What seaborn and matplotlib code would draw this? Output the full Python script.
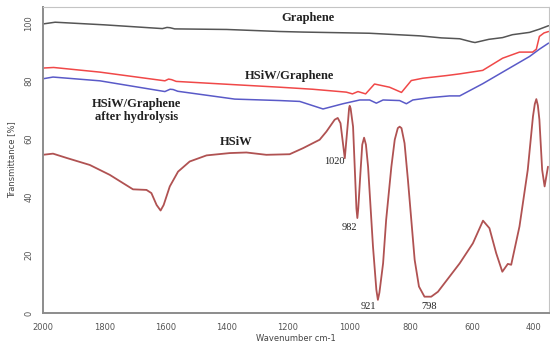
import numpy as np
import pandas as pd
import seaborn as sns
import matplotlib
matplotlib.use("Agg")
import matplotlib.pyplot as plt

# FTIR spectra (wavenumber cm-1 -> transmittance %)
graphene_wn = [2000, 1960, 1800, 1610, 1595, 1585, 1570, 1400, 1227, 1150, 935, 770, 700, 640, 600, 590, 545, 500, 468, 412, 380, 350]
graphene_t = [99.6, 100.2, 99.3, 98.0, 98.4, 98.3, 97.9, 97.7, 97.0, 96.8, 96.4, 95.5, 94.8, 94.5, 93.4, 93.2, 94.3, 94.9, 95.9, 96.7, 97.8, 99.0]

hsiw_gr_wn = [2000, 1965, 1814, 1602, 1590, 1580, 1565, 1380, 1227, 1120, 1010, 990, 972, 947, 918, 869, 830, 798, 760, 684, 640, 565, 500, 445, 402, 390, 380, 365, 350]
hsiw_gr_t = [84.4, 84.6, 83.0, 80.0, 80.6, 80.4, 79.8, 78.7, 77.8, 77.1, 76.1, 75.5, 76.3, 75.5, 78.9, 77.8, 76.0, 80.1, 80.9, 81.8, 82.4, 83.6, 87.8, 89.9, 89.9, 90.9, 95.3, 96.5, 97.0]

hydro_wn = [2000, 1967, 1814, 1602, 1585, 1575, 1560, 1374, 1227, 1162, 1086, 1021, 966, 934, 912, 890, 836, 814, 793, 738, 673, 640, 565, 487, 412, 380, 350]
hydro_t = [80.7, 81.3, 80.0, 76.3, 77.1, 77.0, 76.4, 73.7, 73.2, 72.9, 70.3, 72.1, 73.4, 73.4, 72.3, 73.4, 73.2, 72.1, 73.4, 74.2, 74.8, 74.8, 79.0, 83.8, 88.4, 90.9, 93.0]

hsiw_wn = [2000, 1967, 1922, 1847, 1782, 1738, 1706, 1662, 1646, 1629, 1616, 1606, 1586, 1559, 1521, 1466,
           1390, 1336, 1271, 1195, 1151, 1097, 1075, 1048, 1038, 1029, 1015, 1004, 1001, 999, 996, 988,
           977, 974, 971, 964, 958, 952, 946, 939, 923, 912, 907, 902, 890, 880, 863, 852, 842, 836, 830,
           820, 809, 798, 787, 773, 755, 733, 711, 640, 597, 564, 543, 521, 501, 483, 472, 445, 418, 401,
           395, 390, 385, 380, 371, 363, 352]
hsiw_t = [54.5, 54.9, 53.4, 51.0, 47.6, 44.7, 42.6, 42.4, 41.3, 37.2, 35.3, 37.2, 43.6, 48.7, 52.2, 54.3,
          55.1, 55.3, 54.5, 54.7, 56.8, 59.7, 62.5, 66.6, 67.2, 65.4, 53.3, 66.6, 70.5, 71.4, 70.5, 64.2,
          36.0, 32.7, 36.0, 48.2, 58.0, 60.4, 58.0, 50.4, 22.9, 8.0, 4.5, 7.0, 17.1, 32.1, 50.4, 59.7, 63.7, 64.2, 63.7,
          58.5, 45.9, 32.1, 18.3, 9.1, 5.6, 5.6, 7.3, 17.1, 24.0, 31.8, 29.2, 20.6, 14.2, 16.9, 16.6, 29.8, 49.3, 67.7,
          72.0, 73.7, 71.5, 66.6, 49.3, 43.6, 50.4]

band_labels = ["1020", "982", "921", "798"]
band_pos = [(1048, 52.1), (999, 29.3), (937, 2.1), (741, 2.1)]

sns.set_style("white")

fig = plt.figure(figsize=(5.5, 3.42), dpi=100)
ax = fig.add_axes([0.078, 0.085, 0.92, 0.895])

sns.lineplot(x=graphene_wn, y=graphene_t, ax=ax, color="#555555", lw=1.1, estimator=None)
sns.lineplot(x=hsiw_gr_wn, y=hsiw_gr_t, ax=ax, color="#f04848", lw=1.1, estimator=None)
sns.lineplot(x=hydro_wn, y=hydro_t, ax=ax, color="#5a5ac8", lw=1.1, estimator=None)
sns.lineplot(x=hsiw_wn, y=hsiw_t, ax=ax, color="#b05252", lw=1.3, estimator=None)

ax.set_xlim(2000, 349)
ax.set_ylim(0, 105.5)
ax.set_xticks(range(2000, 399, -200))
ax.set_yticks(range(0, 101, 20))
ax.tick_params(axis="both", direction="out", length=3, width=0.8, color="#888888",
               labelsize=6, labelcolor="#555555", pad=4)
for lab in ax.get_yticklabels():
    lab.set_rotation(90)
    lab.set_va("center")

for side in ["left", "bottom"]:
    ax.spines[side].set_color("#8c8c8c")
    ax.spines[side].set_linewidth(1.4)
for side in ["top", "right"]:
    ax.spines[side].set_color("#c4c4c4")
    ax.spines[side].set_linewidth(0.8)

ax.set_xlabel("Wavenumber cm-1", fontsize=6, color="#444444", labelpad=2)
ax.set_ylabel("Transmittance [%]", fontsize=6, color="#444444", labelpad=6)

serif = ["Liberation Serif", "DejaVu Serif"]
ax.text(1136, 101.7, "Graphene", ha="center", va="center", fontsize=9, fontweight="bold", family=serif, color="#222222")
ax.text(1195, 81.7, "HSiW/Graphene", ha="center", va="center", fontsize=9, fontweight="bold", family=serif, color="#222222")
ax.text(1694, 69.7, "HSiW/Graphene\nafter hydrolysis", ha="center", va="center", fontsize=9, fontweight="bold",
        family=serif, color="#222222", linespacing=1.1)
ax.text(1371, 59.0, "HSiW", ha="center", va="center", fontsize=9, fontweight="bold", family=serif, color="#222222")
for lab, (bx, by) in zip(band_labels, band_pos):
    ax.text(bx, by, lab, ha="center", va="center", fontsize=7.5, family=serif, color="#222222")

fig.savefig("out.png", dpi=100)
